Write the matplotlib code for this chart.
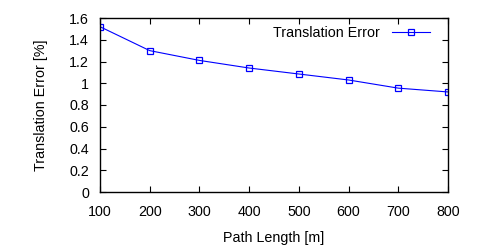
import matplotlib
matplotlib.use('Agg')
import matplotlib.pyplot as plt

plt.rcParams['font.family'] = ['Liberation Sans', 'DejaVu Sans']

path_length = [100, 200, 300, 400, 500, 600, 700, 800]
trans_error = [1.52, 1.30, 1.21, 1.14, 1.085, 1.03, 0.955, 0.92]

fig = plt.figure(figsize=(5, 2.5), dpi=100)
ax = fig.add_axes([0.2, 0.232, 0.696, 0.696])

ax.plot(path_length, trans_error, color='#0000ff', linewidth=0.8,
        marker='s', markersize=5, markerfacecolor='none', markeredgewidth=0.9,
        label='Translation Error')

ax.set_xlim(100, 800)
ax.set_ylim(0, 1.6)
ax.set_xticks(path_length)
ax.set_yticks([0, 0.2, 0.4, 0.6, 0.8, 1, 1.2, 1.4, 1.6])
ax.set_yticklabels(['0', '0.2', '0.4', '0.6', '0.8', '1', '1.2', '1.4', '1.6'])
ax.tick_params(direction='in', top=True, right=True, length=4, width=0.8,
               labelsize=10.3)
ax.tick_params(axis='x', pad=9)
ax.tick_params(axis='y', pad=8)
for s in ax.spines.values():
    s.set_linewidth(1)

ax.set_xlabel('Path Length [m]', fontsize=10.3, labelpad=9)
ax.set_ylabel('Translation Error [%]', fontsize=10.3, labelpad=15)

leg = ax.legend(loc='upper right', frameon=False, fontsize=10.3,
                markerfirst=False, handlelength=2.7, borderaxespad=0.15,
                bbox_to_anchor=(0.972, 1.0))

fig.savefig('out.png', dpi=100)
